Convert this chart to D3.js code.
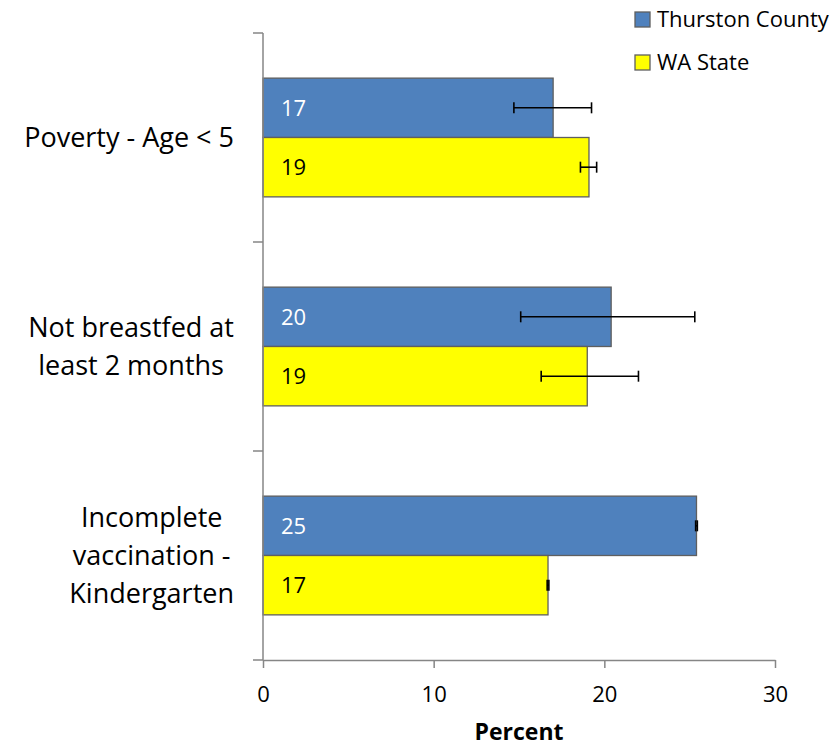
<!DOCTYPE html>
<html>
<head>
<meta charset="utf-8">
<script src="https://cdn.jsdelivr.net/npm/d3@7"></script>
<style>
  body { margin: 0; background: #fff; }
  svg { display: block; font-family: 'Open Sans', sans-serif; }
</style>
</head>
<body>
<svg id="chart" width="840" height="746"></svg>
<script>
const categories = ['Poverty - Age < 5', 'Not breastfed at least 2 months', 'Incomplete vaccination - Kindergarten'];
const categoryLines = [['Poverty - Age < 5'], ['Not breastfed at', 'least 2 months'], ['Incomplete', 'vaccination -', 'Kindergarten']];
const series = ['Thurston County', 'WA State'];
const thurston = [17.0, 20.4, 25.4];
const thurstonLow = [14.7, 15.1, 25.35];
const thurstonHigh = [19.25, 25.3, 25.45];
const waState = [19.1, 19.0, 16.7];
const waLow = [18.6, 16.3, 16.65];
const waHigh = [19.55, 22.0, 16.75];
const labels = [[17, 19], [20, 19], [25, 17]];
const xTicks = [0, 10, 20, 30];

const colors = { 'Thurston County': '#4f81bd', 'WA State': '#ffff00' };
const labelColors = { 'Thurston County': '#ffffff', 'WA State': '#000000' };
const axisColor = '#868686';

const svg = d3.select('#chart');

const x = d3.scaleLinear().domain([0, 30]).range([263, 775]);
const y = d3.scaleBand().domain(categories).range([33, 660]);
const sub = d3.scaleBand().domain(series).range([0, y.bandwidth()]).paddingOuter(0.76);

const rows = categories.map((c, i) => [
  { cat: c, s: series[0], v: thurston[i], lo: thurstonLow[i], hi: thurstonHigh[i], label: labels[i][0] },
  { cat: c, s: series[1], v: waState[i], lo: waLow[i], hi: waHigh[i], label: labels[i][1] }
]).flat();

// bars
svg.append('g')
  .selectAll('rect')
  .data(rows)
  .join('rect')
  .attr('x', x(0))
  .attr('y', d => y(d.cat) + sub(d.s))
  .attr('width', d => x(d.v) - x(0))
  .attr('height', sub.bandwidth())
  .attr('fill', d => colors[d.s])
  .attr('stroke', '#5f5f5f')
  .attr('stroke-width', 1.3);

// data labels
svg.append('g')
  .selectAll('text')
  .data(rows)
  .join('text')
  .attr('x', x(0) + 18)
  .attr('y', d => y(d.cat) + sub(d.s) + sub.bandwidth() / 2)
  .attr('dy', '0.36em')
  .attr('font-size', 22)
  .attr('fill', d => labelColors[d.s])
  .text(d => d.label);

// error bars
const err = svg.append('g')
  .attr('stroke', '#000')
  .attr('stroke-width', 1.6)
  .selectAll('g')
  .data(rows)
  .join('g')
  .attr('transform', d => `translate(0,${y(d.cat) + sub(d.s) + sub.bandwidth() / 2})`);
err.append('line')
  .attr('x1', d => x(d.lo)).attr('x2', d => x(d.hi));
err.append('line')
  .attr('x1', d => x(d.lo)).attr('x2', d => x(d.lo)).attr('y1', -5.5).attr('y2', 5.5);
err.append('line')
  .attr('x1', d => x(d.hi)).attr('x2', d => x(d.hi)).attr('y1', -5.5).attr('y2', 5.5);

// y axis
const yBounds = categories.map(c => y(c)).concat([y.range()[1]]);
const yAxis = svg.append('g').attr('stroke', axisColor).attr('stroke-width', 1.5);
yAxis.append('line').attr('x1', x(0)).attr('x2', x(0)).attr('y1', y.range()[0]).attr('y2', y.range()[1]);
yAxis.selectAll('.tick')
  .data(yBounds)
  .join('line')
  .attr('x1', x(0) - 10).attr('x2', x(0))
  .attr('y1', d => d).attr('y2', d => d);

// x axis
const xAxis = svg.append('g')
  .attr('transform', `translate(0,${y.range()[1]})`)
  .call(d3.axisBottom(x).tickValues(xTicks).tickSize(8).tickPadding(18).tickSizeOuter(0));
xAxis.select('.domain').attr('stroke', axisColor).attr('stroke-width', 1.5);
xAxis.selectAll('.tick line').attr('stroke', axisColor).attr('stroke-width', 1.5);
xAxis.selectAll('.tick text')
  .attr('font-family', 'Open Sans, sans-serif')
  .attr('font-size', 22)
  .attr('fill', '#000');

svg.append('text')
  .attr('x', (x(0) + x(30)) / 2)
  .attr('y', 740)
  .attr('text-anchor', 'middle')
  .attr('font-size', 23)
  .attr('font-weight', 'bold')
  .text('Percent');

// category labels, block right-aligned, lines centred
const lineH = 38;
categoryLines.forEach((lines, i) => {
  const g = svg.append('g');
  const cy = y(categories[i]) + y.bandwidth() / 2;
  const t = g.selectAll('text')
    .data(lines)
    .join('text')
    .attr('font-size', 27)
    .attr('text-anchor', 'middle')
    .attr('y', (d, j) => cy + (j - (lines.length - 1) / 2) * lineH)
    .attr('dy', '0.36em')
    .text(d => d);
  const maxW = d3.max(t.nodes(), n => n.getComputedTextLength());
  t.attr('x', 234 - maxW / 2);
});

// legend
const legend = svg.append('g')
  .selectAll('g')
  .data(series)
  .join('g')
  .attr('transform', (d, i) => `translate(635,${12 + i * 43})`);
legend.append('rect')
  .attr('width', 15).attr('height', 15)
  .attr('fill', d => colors[d])
  .attr('stroke', '#5f5f5f')
  .attr('stroke-width', 1.3);
legend.append('text')
  .attr('x', 22).attr('y', 15)
  .attr('font-size', 22)
  .text(d => d);
</script>
</body>
</html>
